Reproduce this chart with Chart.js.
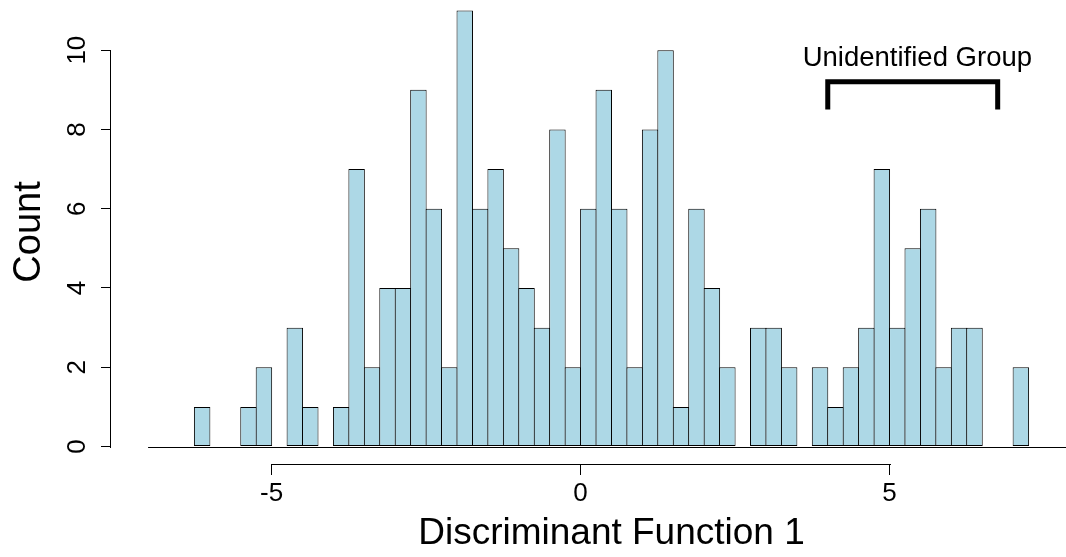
<!DOCTYPE html>
<html>
<head>
<meta charset="utf-8">
<script src="https://cdn.jsdelivr.net/npm/chart.js@4.4.1/dist/chart.umd.min.js"></script>
<style>
  html, body { margin: 0; padding: 0; background: #fff; overflow: hidden; }
  #wrap { width: 1066px; height: 557px; overflow: hidden; }
</style>
</head>
<body>
<div id="wrap"><canvas id="histChart" width="1112" height="557"></canvas></div>
<script>
// histogram bins: left edge of the first bin and bin width
var binStart = -7;
var binWidth = 0.25;

// counts per bin, from -7.00 up to 8.00
var counts = [
	0, 0, 0, 1, 0, 0, 1, 2, 0, 3,
	1, 0, 1, 7, 2, 4, 4, 9, 6, 2,
	11, 6, 7, 5, 4, 3, 8, 2, 6, 9,
	6, 2, 8, 10, 1, 6, 4, 2, 0, 3,
	3, 2, 0, 2, 1, 2, 3, 7, 3, 5,
	6, 2, 3, 3, 0, 0, 2, 0, 0, 0
];

var xTicks = [-5, 0, 5];
var yTicks = [0, 2, 4, 6, 8, 10];

// bracket over the right-hand cluster
var groupLabel = 'Unidentified Group';
var groupFrom = 4;
var groupTo = 6.75;
var bracketTop = 9.2;
var bracketLeg = 8.5;
var labelX = 5.45;
var labelY = 9.6;

var FONT = "'Liberation Sans', Arial, Helvetica, sans-serif";

var points = [];
for (var i = 0; i < counts.length; i++) {
	points.push({ x: binStart + binWidth * (i + 0.5), y: counts[i] });
}
var binEnd = binStart + binWidth * counts.length;

// R style axes: baseline, axis lines spanning only the ticks, and the bracket
var extras = {
	id: 'extras',
	afterDatasetsDraw: function(chart) {
		var ctx = chart.ctx;
		var xs = chart.scales.x;
		var ys = chart.scales.y;
		var area = chart.chartArea;
		ctx.save();
		ctx.fillStyle = '#000';

		// baseline under the bins
		var y0 = Math.round(ys.getPixelForValue(0));
		var bx0 = xs.getPixelForValue(binStart);
		ctx.fillRect(bx0, y0, xs.getPixelForValue(binEnd) - bx0, 1);

		// x axis line
		var xa = Math.round(xs.getPixelForValue(xTicks[0]));
		var xz = Math.round(xs.getPixelForValue(xTicks[xTicks.length - 1]));
		ctx.fillRect(xa, Math.round(area.bottom), xz - xa + 1, 1);

		// y axis line
		var ya = Math.round(ys.getPixelForValue(yTicks[0]));
		var yz = Math.round(ys.getPixelForValue(yTicks[yTicks.length - 1]));
		ctx.fillRect(Math.round(area.left) - 1, yz, 1, ya - yz + 1);

		// bracket
		var bx1 = xs.getPixelForValue(groupFrom);
		var bx2 = xs.getPixelForValue(groupTo);
		var bt = ys.getPixelForValue(bracketTop);
		var bl = ys.getPixelForValue(bracketLeg);
		ctx.strokeStyle = '#000';
		ctx.lineWidth = 5;
		ctx.lineJoin = 'miter';
		ctx.lineCap = 'butt';
		ctx.beginPath();
		ctx.moveTo(bx1, bl);
		ctx.lineTo(bx1, bt);
		ctx.lineTo(bx2, bt);
		ctx.lineTo(bx2, bl);
		ctx.stroke();

		ctx.font = '27.5px ' + FONT;
		ctx.textAlign = 'center';
		ctx.textBaseline = 'alphabetic';
		ctx.fillText(groupLabel, xs.getPixelForValue(labelX), ys.getPixelForValue(labelY));
		ctx.restore();
	}
};

var ctx = document.getElementById('histChart').getContext('2d');

var histChart = new Chart(ctx, {
	type: 'bar',
	data: {
		datasets: [{
			data: points,
			backgroundColor: '#ADD8E6',
			borderColor: '#000',
			borderWidth: 1,
			borderSkipped: false,
			categoryPercentage: 1,
			barPercentage: 1.065
		}]
	},
	options: {
		responsive: false,
		animation: false,
		layout: { padding: 0 },
		plugins: {
			legend: { display: false },
			tooltip: { enabled: false },
			title: { display: false }
		},
		scales: {
			x: {
				type: 'linear',
				offset: false,
				min: -7.6,
				max: 8.6,
				afterBuildTicks: function(scale) {
					scale.ticks = xTicks.map(function(v) { return { value: v }; });
				},
				afterFit: function(scale) {
					scale.height = 93;
					scale.paddingLeft = 0;
					scale.paddingRight = 0;
				},
				grid: {
					display: true,
					offset: false,
					drawOnChartArea: false,
					drawTicks: true,
					tickLength: 11,
					color: '#000',
					lineWidth: 1
				},
				border: { display: false },
				ticks: {
					color: '#000',
					font: { family: FONT, size: 26 },
					padding: 3,
					maxRotation: 0,
					autoSkip: false,
					callback: function(v) { return String(v); }
				},
				title: {
					display: true,
					text: 'Discriminant Function 1',
					color: '#000',
					font: { family: FONT, size: 37 },
					padding: { top: 0, bottom: 1 }
				}
			},
			y: {
				type: 'linear',
				min: -0.44,
				max: 11.265,
				afterBuildTicks: function(scale) {
					scale.ticks = yTicks.map(function(v) { return { value: v }; });
				},
				afterFit: function(scale) {
					scale.width = 111;
					scale.paddingTop = 0;
					scale.paddingBottom = 0;
				},
				grid: {
					display: true,
					offset: false,
					drawOnChartArea: false,
					drawTicks: true,
					tickLength: 10,
					color: '#000',
					lineWidth: 1
				},
				border: { display: false },
				ticks: {
					color: '#000',
					font: { family: FONT, size: 26 },
					padding: 9,
					minRotation: 90,
					maxRotation: 90,
					crossAlign: 'center',
					autoSkip: false,
					callback: function(v) { return String(v); }
				},
				title: {
					display: true,
					text: 'Count',
					color: '#000',
					font: { family: FONT, size: 38 },
					padding: { top: 7, bottom: 0 }
				}
			}
		}
	},
	plugins: [extras]
});
</script>
</body>
</html>
